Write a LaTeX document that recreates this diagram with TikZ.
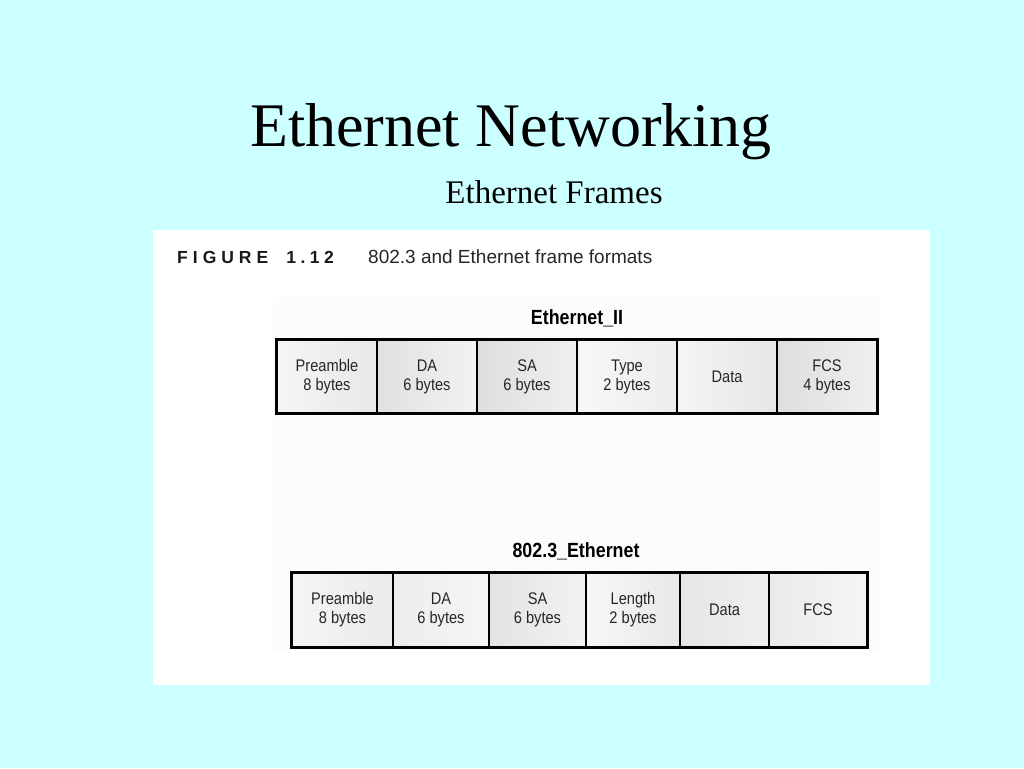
\documentclass[tikz,border=0pt]{standalone}
\usepackage{fontspec}
\setmainfont{Liberation Serif}
\newfontfamily\figfont{Liberation Sans}
\newfontfamily\cellfont[FakeStretch=0.87]{Liberation Sans}
\usetikzlibrary{positioning}
\definecolor{slidebg}{HTML}{CCFFFF}
\definecolor{celltext}{HTML}{262626}
\tikzset{
    x=1pt, y=-1pt, % pixel grid, origin at the top left
    field/.style={draw=black, line width=1.6pt, inner sep=0pt, align=center, text=celltext, font=\cellfont\fontsize{16.8}{19}\selectfont}, % one field of a frame
    frametitle/.style={anchor=base, inner sep=0pt, font=\cellfont\bfseries\fontsize{20.5}{24}\selectfont},
    outline/.style={line width=2.6pt}, % heavy border round a frame
}

\begin{document}
\begin{tikzpicture}
    \fill[slidebg] (0,0) rectangle (1024,768);
    \useasboundingbox (0,0) rectangle (1024,768);
    \fill[white] (153,230) rectangle (930,685);
    \fill[gray!2] (273,297) rectangle (880,650);

    \node[anchor=base, font=\fontsize{62}{70}\selectfont] (title) at (511,146) {Ethernet Networking};
    \node[anchor=base, font=\fontsize{33}{38}\selectfont] (subtitle) at (554,203) {Ethernet Frames};

    \node[anchor=base west, inner sep=0pt, text=black!90, font=\figfont\bfseries\fontsize{17.5}{20}\selectfont] (fignum) at (177,263)
        {F\kern5pt I\kern5pt G\kern5pt U\kern5pt R\kern5pt E\kern18pt 1\kern4.5pt .\kern4.5pt 1\kern4.5pt 2};
    \node[anchor=base west, inner sep=0pt, text=black!85, font=\figfont\fontsize{19}{22}\selectfont] (figcap) at (368,263)
        {802.3 and Ethernet frame formats};

    % Ethernet_II frame
    \node[frametitle] (e2title) at (577,324) {Ethernet\_II};
    \foreach \name/\cx/\w/\lbl/\lc/\rc in {
        e2pre/327/100/Preamble\\8 bytes/gray!8/gray!18,
        e2da/427/100/DA\\6 bytes/gray!24/gray!10,
        e2sa/527/100/SA\\6 bytes/gray!26/gray!12,
        e2type/627/100/Type\\2 bytes/gray!6/gray!14,
        e2data/727/100/Data/gray!8/gray!20,
        e2fcs/827/100/FCS\\4 bytes/gray!26/gray!12}
        \node[field, minimum width=\w pt, minimum height=73pt, left color=\lc, right color=\rc] (\name) at (\cx,376.5) {\lbl};
    \draw[outline] (e2pre.north west) rectangle (e2fcs.south east);

    % 802.3 frame
    \node[frametitle] (e3title) at (576,557) {802.3\_Ethernet};
    \foreach \name/\cx/\w/\lbl/\lc/\rc in {
        e3pre/342.5/101/Preamble\\8 bytes/gray!8/gray!16,
        e3da/441/96/DA\\6 bytes/gray!14/gray!8,
        e3sa/537.5/97/SA\\6 bytes/gray!22/gray!10,
        e3len/633/94/Length\\2 bytes/gray!6/gray!18,
        e3data/724.5/89/Data/gray!20/gray!12,
        e3fcs/818/98/FCS/gray!16/gray!8}
        \node[field, minimum width=\w pt, minimum height=74pt, left color=\lc, right color=\rc] (\name) at (\cx,610) {\lbl};
    \draw[outline] (e3pre.north west) rectangle (e3fcs.south east);
\end{tikzpicture}
\end{document}
